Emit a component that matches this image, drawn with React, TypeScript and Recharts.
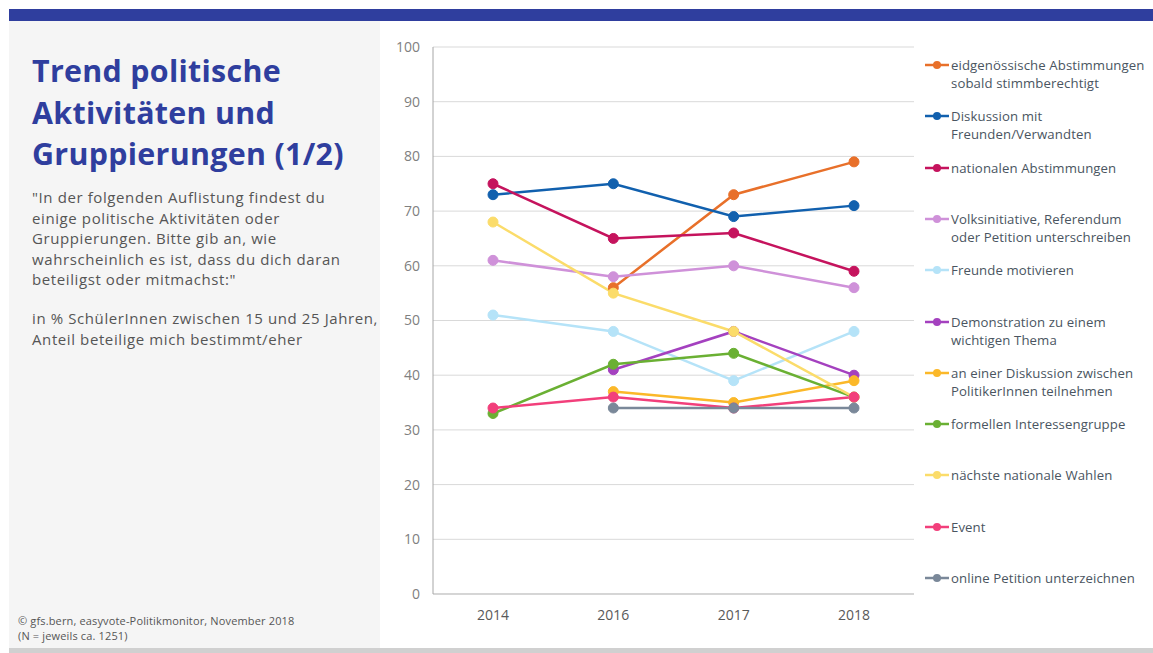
import { LineChart, Line, XAxis, YAxis, CartesianGrid, Legend } from 'recharts';

const years = ['2014', '2016', '2017', '2018'];
const yTicks = [0, 10, 20, 30, 40, 50, 60, 70, 80, 90, 100];

const seriesNames = [
  'eidgenössische Abstimmungen sobald stimmberechtigt',
  'Diskussion mit Freunden/Verwandten',
  'nationalen Abstimmungen',
  'Volksinitiative, Referendum oder Petition unterschreiben',
  'Freunde motivieren',
  'Demonstration zu einem wichtigen Thema',
  'an einer Diskussion zwischen PolitikerInnen teilnehmen',
  'formellen Interessengruppe',
  'nächste nationale Wahlen',
  'Event',
  'online Petition unterzeichnen',
];

const legendLines = [
  ['eidgenössische Abstimmungen', 'sobald stimmberechtigt'],
  ['Diskussion mit', 'Freunden/Verwandten'],
  ['nationalen Abstimmungen'],
  ['Volksinitiative, Referendum', 'oder Petition unterschreiben'],
  ['Freunde motivieren'],
  ['Demonstration zu einem', 'wichtigen Thema'],
  ['an einer Diskussion zwischen', 'PolitikerInnen teilnehmen'],
  ['formellen Interessengruppe'],
  ['nächste nationale Wahlen'],
  ['Event'],
  ['online Petition unterzeichnen'],
];

const colors = [
  '#E8702A', '#1160AE', '#C5135D', '#CF91D9', '#B5E3F8', '#A441BF',
  '#FBB829', '#6AB033', '#FBDC6A', '#F23F7B', '#7A8899',
];

const eidgenoessisch = [null, 56, 73, 79];
const diskussionFreunde = [73, 75, 69, 71];
const nationaleAbst = [75, 65, 66, 59];
const volksinitiative = [61, 58, 60, 56];
const freundeMotivieren = [51, 48, 39, 48];
const demonstration = [null, 41, 48, 40];
const diskussionPolitiker = [null, 37, 35, 39];
const interessengruppe = [33, 42, 44, 36];
const wahlen = [68, 55, 48, 36];
const event = [34, 36, 34, 36];
const onlinePetition = [null, 34, 34, 34];

const seriesValues = [
  eidgenoessisch, diskussionFreunde, nationaleAbst, volksinitiative, freundeMotivieren,
  demonstration, diskussionPolitiker, interessengruppe, wahlen, event, onlinePetition,
];

const data = years.map((year, i) => {
  const row: Record<string, any> = { year };
  seriesNames.forEach((name, s) => {
    row[name] = seriesValues[s][i];
  });
  return row;
});

const FONT = '"Open Sans", "Noto Sans", sans-serif';

const CustomLegend = () => (
  <div style={{ position: 'relative', width: 228, height: 600, fontFamily: FONT }}>
    {legendLines.map((lines, i) => (
      <div
        key={i}
        style={{
          position: 'absolute',
          left: 0,
          top: 48 + i * 51.3,
          display: 'flex',
          alignItems: 'flex-start',
        }}
      >
        <svg width={26} height={18} style={{ flexShrink: 0 }}>
          <line x1={0} y1={9} x2={24} y2={9} stroke={colors[i]} strokeWidth={2.5} />
          <circle cx={12} cy={9} r={4} fill={colors[i]} />
        </svg>
        <div style={{ fontSize: 13.2, letterSpacing: 0.1, lineHeight: '18px', color: '#4A5561', whiteSpace: 'nowrap' }}>
          {lines.map((l, k) => (
            <div key={k}>{l}</div>
          ))}
        </div>
      </div>
    ))}
  </div>
);

const App = () => {
  return (
    <div style={{ position: 'fixed', left: 0, top: 0, width: 1153, height: 653, overflow: 'hidden', background: '#fff' }}>
      <div style={{ position: 'absolute', left: 8, top: 8, width: 1145, height: 645, fontFamily: FONT }}>
        <div style={{ position: 'absolute', left: 1, top: 1, width: 1144, height: 12, background: '#2F3E9E' }} />
        <div style={{ position: 'absolute', left: 1, top: 13, width: 371, height: 627, background: '#F5F5F5' }} />
        <div style={{ position: 'absolute', left: 1, top: 640, width: 1144, height: 5, background: '#D0D0D0' }} />

        <div
          style={{
            position: 'absolute',
            left: 24,
            top: 42,
            fontSize: 30.4,
            letterSpacing: 0.3,
            fontWeight: 700,
            lineHeight: '41.5px',
            color: '#2F3E9E',
          }}
        >
          Trend politische
          <br />
          Aktivitäten und
          <br />
          Gruppierungen (1/2)
        </div>

        <div style={{ position: 'absolute', left: 24, top: 179, fontSize: 15, letterSpacing: 0.6, lineHeight: '20.5px', color: '#555' }}>
          "In der folgenden Auflistung findest du
          <br />
          einige politische Aktivitäten oder
          <br />
          Gruppierungen. Bitte gib an, wie
          <br />
          wahrscheinlich es ist, dass du dich daran
          <br />
          beteiligst oder mitmachst:"
        </div>

        <div style={{ position: 'absolute', left: 24, top: 300, fontSize: 15, letterSpacing: 0.6, lineHeight: '20.5px', color: '#555' }}>
          in % SchülerInnen zwischen 15 und 25 Jahren,
          <br />
          Anteil beteilige mich bestimmt/eher
        </div>

        <div style={{ position: 'absolute', left: 10, top: 605, fontSize: 11, letterSpacing: 0.15, lineHeight: '15px', color: '#555' }}>
          © gfs.bern, easyvote-Politikmonitor, November 2018
          <br />
          (N = jeweils ca. 1251)
        </div>

        <div style={{ position: 'absolute', left: 372, top: 0 }}>
          <LineChart
            width={773}
            height={630}
            data={data}
            margin={{ top: 39, right: 239, bottom: 14, left: 0 }}
          >
            <CartesianGrid vertical={false} stroke="#D9D9D9" strokeWidth={1} />
            <XAxis
              dataKey="year"
              padding={{ left: 60, right: 60 }}
              tickLine={false}
              axisLine={{ stroke: '#BFBFBF' }}
              tick={{ fontSize: 14, fill: '#595959', fontFamily: FONT }}
              tickMargin={10}
              height={30}
            />
            <YAxis
              domain={[0, 100]}
              ticks={yTicks}
              interval={0}
              tickLine={false}
              axisLine={{ stroke: '#A6A6A6' }}
              tick={{ fontSize: 14, fill: '#808080', fontFamily: FONT }}
              tickMargin={7}
              width={53}
            />
            <Legend
              content={<CustomLegend />}
              layout="vertical"
              align="center"
              verticalAlign="middle"
              wrapperStyle={{ left: 545, top: 0, width: 228, height: 600 }}
            />
            {seriesNames.map((name, i) => (
              <Line
                key={name}
                dataKey={name}
                stroke={colors[i]}
                strokeWidth={2.5}
                dot={{ r: 5, fill: colors[i], stroke: colors[i], strokeWidth: 1 }}
                isAnimationActive={false}
              />
            ))}
          </LineChart>
        </div>
      </div>
    </div>
  );
};

export default App;
